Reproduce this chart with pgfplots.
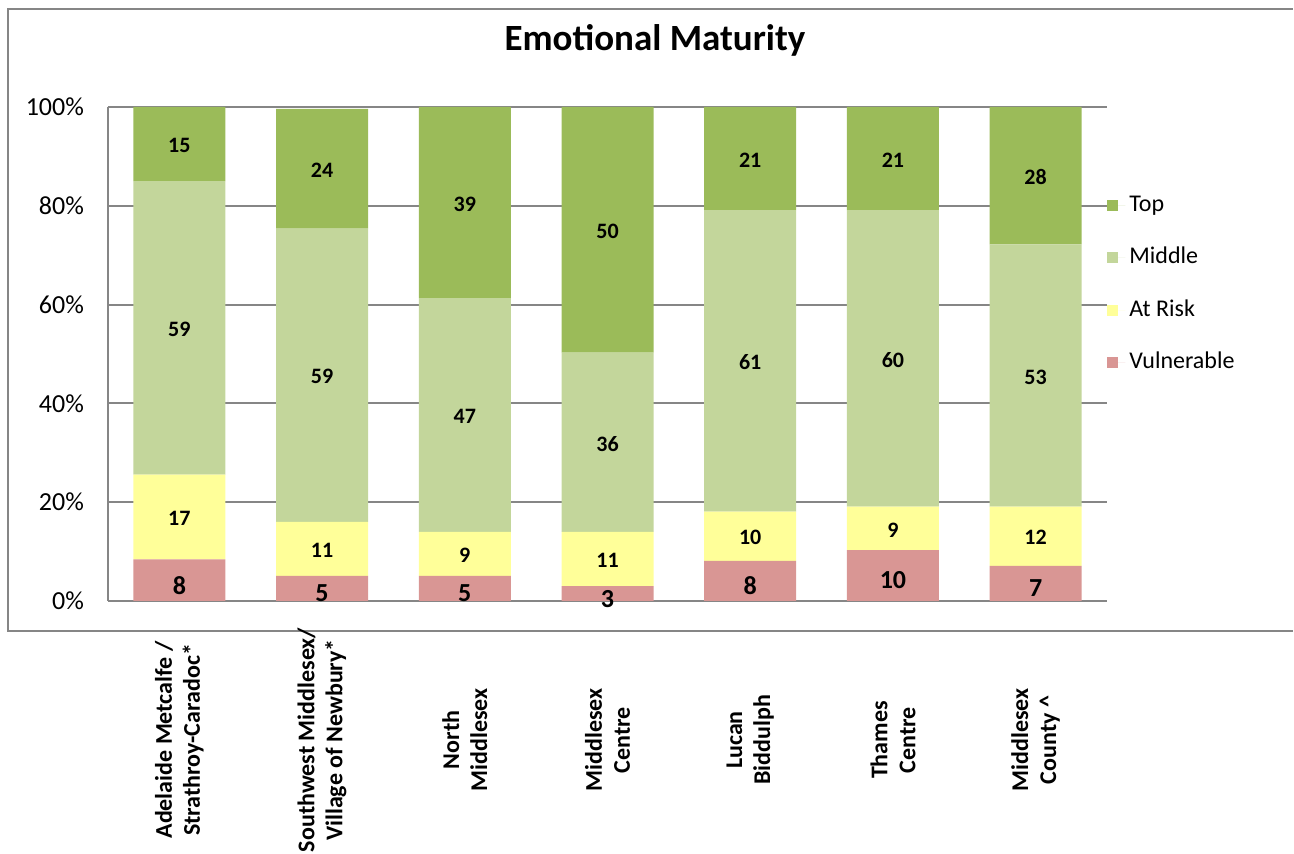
\documentclass[border=0pt]{standalone}
\usepackage{fontspec}
\setmainfont{Carlito}
\usepackage{pgfplots}
\usepackage{pgfplotstable}
\pgfplotsset{compat=1.18}
\definecolor{cTop}{HTML}{9BBB59}
\definecolor{cMid}{HTML}{C3D69B}
\definecolor{cRisk}{HTML}{FFFF99}
\definecolor{cVul}{HTML}{D99694}
\definecolor{cGrid}{HTML}{868686}
\pgfplotstableread{
x v r m t
0 8.4 17.2 59.4 15.0
1 5.1 10.9 59.4 24.2
2 5.1 8.9 47.3 38.7
3 3.0 11.0 36.3 49.7
4 8.1 10.0 61.0 20.9
5 10.3 8.8 60.0 20.9
6 7.1 12.0 53.1 27.8
}\datatable
\pgfplotsset{
  sq legend/.style={legend image code/.code={\fill[##1] (0pt,-2.75pt) rectangle (5.5pt,2.75pt); \path (0pt,0pt) -- (9pt,0pt);}},
  seglabel/.style 2 args={
    point meta=\thisrow{#1},
    nodes near coords={\pgfmathprintnumber[fixed,precision=0]{\pgfplotspointmeta}},
    every node near coord/.append style={anchor=center, text=black, yshift=-#2},
  },
}
\begin{document}
\begin{tikzpicture}
\path[use as bounding box] (-54pt,-126.5pt) rectangle (593pt,300.5pt);
\draw[cGrid, line width=1pt] (592.5pt,-15pt) -- (-50pt,-15pt) -- (-50pt,296pt) -- (592.5pt,296pt);
\begin{axis}[
  at={(0pt,0pt)}, anchor=south west,
  scale only axis, width=499.5pt, height=247pt,
  ybar stacked, bar width=46pt,
  xmin=-0.5, xmax=6.5, ymin=0, ymax=100,
  clip=false,
  axis x line*=bottom, axis y line*=left,
  x axis line style={-, cGrid, line width=1pt},
  y axis line style={-, cGrid, line width=1pt},
  major tick length=0pt,
  xtick={0,1,2,3,4,5,6},
  xticklabels={{Adelaide Metcalfe /\\Strathroy-Caradoc*},{Southwest Middlesex/\\Village of Newbury*},{North\\Middlesex},{Middlesex\\Centre},{Lucan\\Biddulph},{Thames\\Centre},{Middlesex\\County \^{}}},
  xticklabel style={yshift=-69.5pt, rotate=90, anchor=center, align=center, font=\bfseries\fontsize{12}{14}\selectfont},
  ytick={0,20,40,60,80,100},
  yticklabel={\pgfmathprintnumber{\tick}\%},
  /pgf/number format/assume math mode=true,
  yticklabel style={xshift=-8.5pt, font=\fontsize{13}{15}\selectfont},
  ymajorgrids, grid style={cGrid, line width=1pt},
  title={Emotional Maturity},
  title style={at={(0.5475,1.111)}, anchor=center, font=\bfseries\fontsize{18.5}{22}\selectfont},
  reverse legend,
  legend style={draw=none, at={(1.0,0.824)}, anchor=north west, inner sep=0pt,
    font=\fontsize{12}{14}\selectfont, row sep=15.2pt,
    nodes={text height=8.5pt, text depth=2.5pt, inner ysep=0pt}},
  legend cell align=left,
]
\addplot[fill=cVul, draw=none, sq legend, seglabel={v}{2.5pt},
  every node near coord/.append style={font=\bfseries\fontsize{13}{15}\selectfont}] table[x=x,y=v]{\datatable};
\addplot[fill=cRisk, draw=none, sq legend, seglabel={r}{0.75pt},
  every node near coord/.append style={font=\bfseries\fontsize{11}{13}\selectfont}] table[x=x,y=r]{\datatable};
\addplot[fill=cMid, draw=none, sq legend, seglabel={m}{0.75pt},
  every node near coord/.append style={font=\bfseries\fontsize{11}{13}\selectfont}] table[x=x,y=m]{\datatable};
\addplot[fill=cTop, draw=none, sq legend, seglabel={t}{0.75pt},
  every node near coord/.append style={font=\bfseries\fontsize{11}{13}\selectfont}] table[x=x,y=t]{\datatable};
\legend{Vulnerable, At Risk, Middle, Top}
\end{axis}
\end{tikzpicture}
\end{document}
